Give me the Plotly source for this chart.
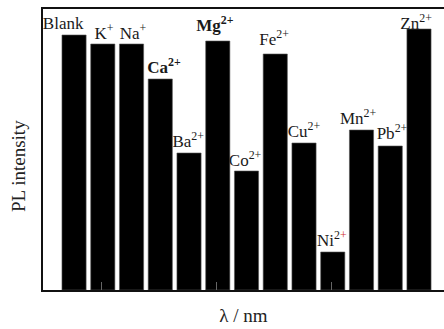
import plotly.graph_objects as go

# Data
ions = ["Blank", "K⁺", "Na⁺", "Ca²⁺", "Ba²⁺", "Mg²⁺", "Co²⁺", "Fe²⁺", "Cu²⁺", "Ni²⁺", "Mn²⁺", "Pb²⁺", "Zn²⁺"]
intensity = [255, 246, 246, 211, 137, 249, 119, 236, 147, 38, 160, 144, 261]
label_html = ["Blank", "K<sup>+</sup>", "Na<sup>+</sup>", "<b>Ca<sup>2+</sup></b>", "Ba<sup>2+</sup>",
              "<b>Mg<sup>2+</sup></b>", "Co<sup>2+</sup>", "Fe<sup>2+</sup>", "Cu<sup>2+</sup>",
              "Ni<sup>2<span style='color:#d03030'>+</span></sup>", "Mn<sup>2+</sup>", "Pb<sup>2+</sup>",
              "Zn<sup>2+</sup>"]

# label placement (layout only)
label_dx = [-0.38, 0.04, 0.05, 0.13, -0.03, -0.1, -0.05, -0.04, 0.0, -0.03, -0.12, 0.06, -0.1]
label_dy = [2, 1, 1, 2, 2, 6, 1, 5, 2, 2, 2, 3, -4]

idx = list(range(len(ions)))
lab_x = [i + d for i, d in zip(idx, label_dx)]
lab_y = [v + d for v, d in zip(intensity, label_dy)]

serif = "Liberation Serif"

fig = go.Figure()
# labels on base subplot (drawn beneath bars)
fig.add_trace(go.Scatter(
    x=lab_x, y=lab_y, mode="text", text=label_html, textposition="top center",
    textfont=dict(family=serif, size=17, color="#1a1a1a"),
    hoverinfo="skip", showlegend=False, cliponaxis=False,
    xaxis="x", yaxis="y"))
# bars on overlay subplot
fig.add_trace(go.Bar(
    x=idx, y=intensity, width=0.84, marker=dict(color="black", line=dict(color="#555", width=0.6)),
    showlegend=False, xaxis="x2", yaxis="y2"))

xr = [-1.08, 12.87]
yr = [0, 281]
fig.update_layout(
    width=444, height=329,
    margin=dict(l=43, r=0, t=9, b=39),
    plot_bgcolor="white", paper_bgcolor="white",
    font=dict(family=serif),
    xaxis=dict(range=xr, showgrid=False, zeroline=False, showticklabels=False,
               showline=True, linecolor="#111", linewidth=1.5, mirror=True, ticks="",
               title=dict(text="λ / nm", font=dict(family=serif, size=19, color="#222"), standoff=18)),
    yaxis=dict(range=yr, showgrid=False, zeroline=False, showticklabels=False,
               showline=True, linecolor="#111", linewidth=1.5, ticks=""),
    xaxis2=dict(range=xr, overlaying="x", visible=True, showgrid=False, zeroline=False,
                showticklabels=False, showline=False, ticks="inside", tickvals=[0.95, 4.95, 8.95],
                ticklen=8, tickcolor="#666", tickwidth=1, layer="above traces"),
    yaxis2=dict(range=yr, overlaying="y", visible=False),
    bargap=0.16,
    annotations=[dict(text="PL intensity", textangle=-90, xref="paper", yref="paper",
                      x=-43 / 444, xanchor="left", xshift=2,
                      y=0.44, yanchor="middle", showarrow=False,
                      font=dict(family=serif, size=19, color="#222"))],
)

fig.write_html("out.html")
